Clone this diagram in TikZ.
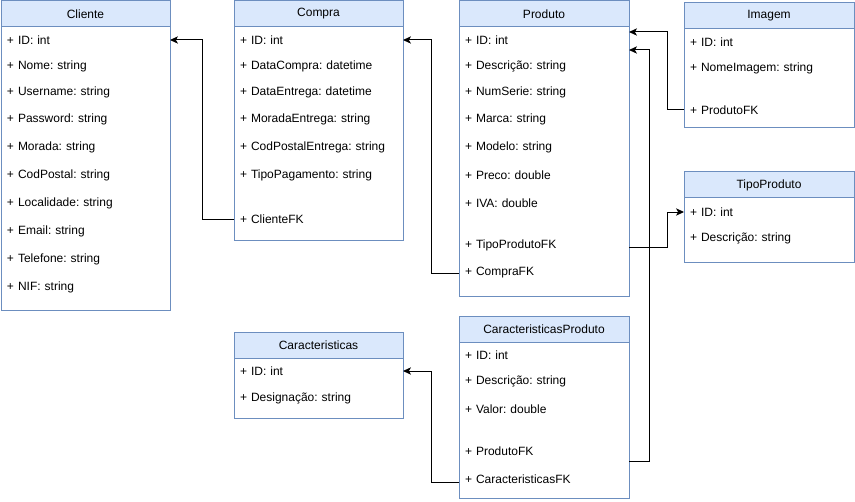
\documentclass[tikz,border=0pt]{standalone}
\usepackage{fontspec}
\setmainfont{Liberation Sans}
\usetikzlibrary{arrows.meta,calc}
\definecolor{headfill}{HTML}{DAE8FC}
\definecolor{headline}{HTML}{6C8EBF}
\def\pxu{0.75pt}
\frenchspacing
% class box: name, x, y, width, height, title
\newcommand\umlclass[6]{%
  \node[classbody, minimum width=#4*\pxu, minimum height=#5*\pxu] (#1) at (#2,#3) {};
  \node[classhead, minimum width=#4*\pxu] (#1-head) at (#2,#3) {#6};}
% attribute row: name, class, y, text
\newcommand\umlrow[4]{%
  \node[classrow] (#1) at (#2.west |- 0,#3) {#4};}
\tikzset{
  classbody/.style={draw=headline, fill=white, line width=0.75pt, anchor=north west, inner sep=0pt, outer sep=0pt},
  classhead/.style={draw=headline, fill=headfill, line width=0.75pt, anchor=north west, inner sep=0pt, outer sep=0pt, minimum height=26*\pxu},
  classrow/.style={anchor=west, inner xsep=6*\pxu, inner ysep=1pt, outer sep=0pt, text width=157*\pxu, align=left},
  fk/.style={draw, line width=0.75pt, -{Stealth[length=6pt,width=5.5pt,inset=1.6pt]}},
}
\begin{document}
\begin{tikzpicture}[x=0.75pt, y=-0.75pt, font=\fontsize{9pt}{11pt}\selectfont\frenchspacing]
\useasboundingbox (0,0) rectangle (855,502);

% Cliente
\umlclass{cliente}{1}{1}{169}{309}{Cliente}
\umlrow{cliente-id}{cliente}{40}{+ ID: int}
\umlrow{cliente-nome}{cliente}{66}{+ Nome: string}
\umlrow{cliente-user}{cliente}{92}{+ Username: string}
\umlrow{cliente-pass}{cliente}{119}{+ Password: string}
\umlrow{cliente-morada}{cliente}{147}{+ Morada: string}
\umlrow{cliente-cp}{cliente}{175}{+ CodPostal: string}
\umlrow{cliente-local}{cliente}{203}{+ Localidade: string}
\umlrow{cliente-email}{cliente}{231}{+ Email: string}
\umlrow{cliente-tel}{cliente}{259}{+ Telefone: string}
\umlrow{cliente-nif}{cliente}{287}{+ NIF: string}

% Compra
\umlclass{compra}{234}{1}{169}{239}{Compra}
\umlrow{compra-id}{compra}{40}{+ ID: int}
\umlrow{compra-data}{compra}{66}{+ DataCompra: datetime}
\umlrow{compra-entrega}{compra}{92}{+ DataEntrega: datetime}
\umlrow{compra-morada}{compra}{119}{+ MoradaEntrega: string}
\umlrow{compra-cp}{compra}{147}{+ CodPostalEntrega: string}
\umlrow{compra-pag}{compra}{175}{+ TipoPagamento: string}
\umlrow{compra-clientefk}{compra}{219}{+ ClienteFK}

% Produto
\umlclass{produto}{459}{1}{170}{295}{Produto}
\umlrow{produto-id}{produto}{40}{+ ID: int}
\umlrow{produto-desc}{produto}{66}{+ Descrição: string}
\umlrow{produto-serie}{produto}{92}{+ NumSerie: string}
\umlrow{produto-marca}{produto}{119}{+ Marca: string}
\umlrow{produto-modelo}{produto}{147}{+ Modelo: string}
\umlrow{produto-preco}{produto}{175}{+ Preco: double}
\umlrow{produto-iva}{produto}{203}{+ IVA: double}
\umlrow{produto-tipofk}{produto}{245}{+ TipoProdutoFK}
\umlrow{produto-comprafk}{produto}{273}{+ CompraFK}

% Imagem
\umlclass{imagem}{684}{3}{170}{125}{Imagem}
\umlrow{imagem-id}{imagem}{42}{+ ID: int}
\umlrow{imagem-nome}{imagem}{68}{+ NomeImagem: string}
\umlrow{imagem-produtofk}{imagem}{110}{+ ProdutoFK}

% TipoProduto
\umlclass{tipoproduto}{684}{172}{170}{90}{TipoProduto}
\umlrow{tipoproduto-id}{tipoproduto}{212}{+ ID: int}
\umlrow{tipoproduto-desc}{tipoproduto}{238}{+ Descrição: string}

% Caracteristicas
\umlclass{carac}{234}{332}{169}{86}{Caracteristicas}
\umlrow{carac-id}{carac}{371}{+ ID: int}
\umlrow{carac-desig}{carac}{398}{+ Designação: string}

% CaracteristicasProduto
\umlclass{cp}{459}{316}{170}{182}{CaracteristicasProduto}
\umlrow{cp-id}{cp}{355}{+ ID: int}
\umlrow{cp-desc}{cp}{381}{+ Descrição: string}
\umlrow{cp-valor}{cp}{409}{+ Valor: double}
\umlrow{cp-produtofk}{cp}{451}{+ ProdutoFK}
\umlrow{cp-caracfk}{cp}{479}{+ CaracteristicasFK}

% foreign keys
\draw[fk] (compra-clientefk.west) -- ++(-32,0) |- (cliente.east |- cliente-id);
\draw[fk] (produto-comprafk.west) -- ++(-28,0) |- (compra.east |- compra-id);
\draw[fk] (imagem-produtofk.west) -- ++(-17,0) |- ($(produto.east |- produto-id)+(0,-8)$);
\draw[fk] ($(cp.east |- cp-produtofk)+(0,10)$) -- ++(20,0) |- ($(produto.east |- produto-id)+(0,10)$);
\draw[fk] ($(produto.east |- produto-tipofk)+(0,2)$) -- ++(38,0) |- (tipoproduto.west |- tipoproduto-id);
\draw[fk] ($(cp-caracfk.west)+(0,3)$) -- ++(-28,0) |- (carac.east |- carac-id);
\end{tikzpicture}
\end{document}
